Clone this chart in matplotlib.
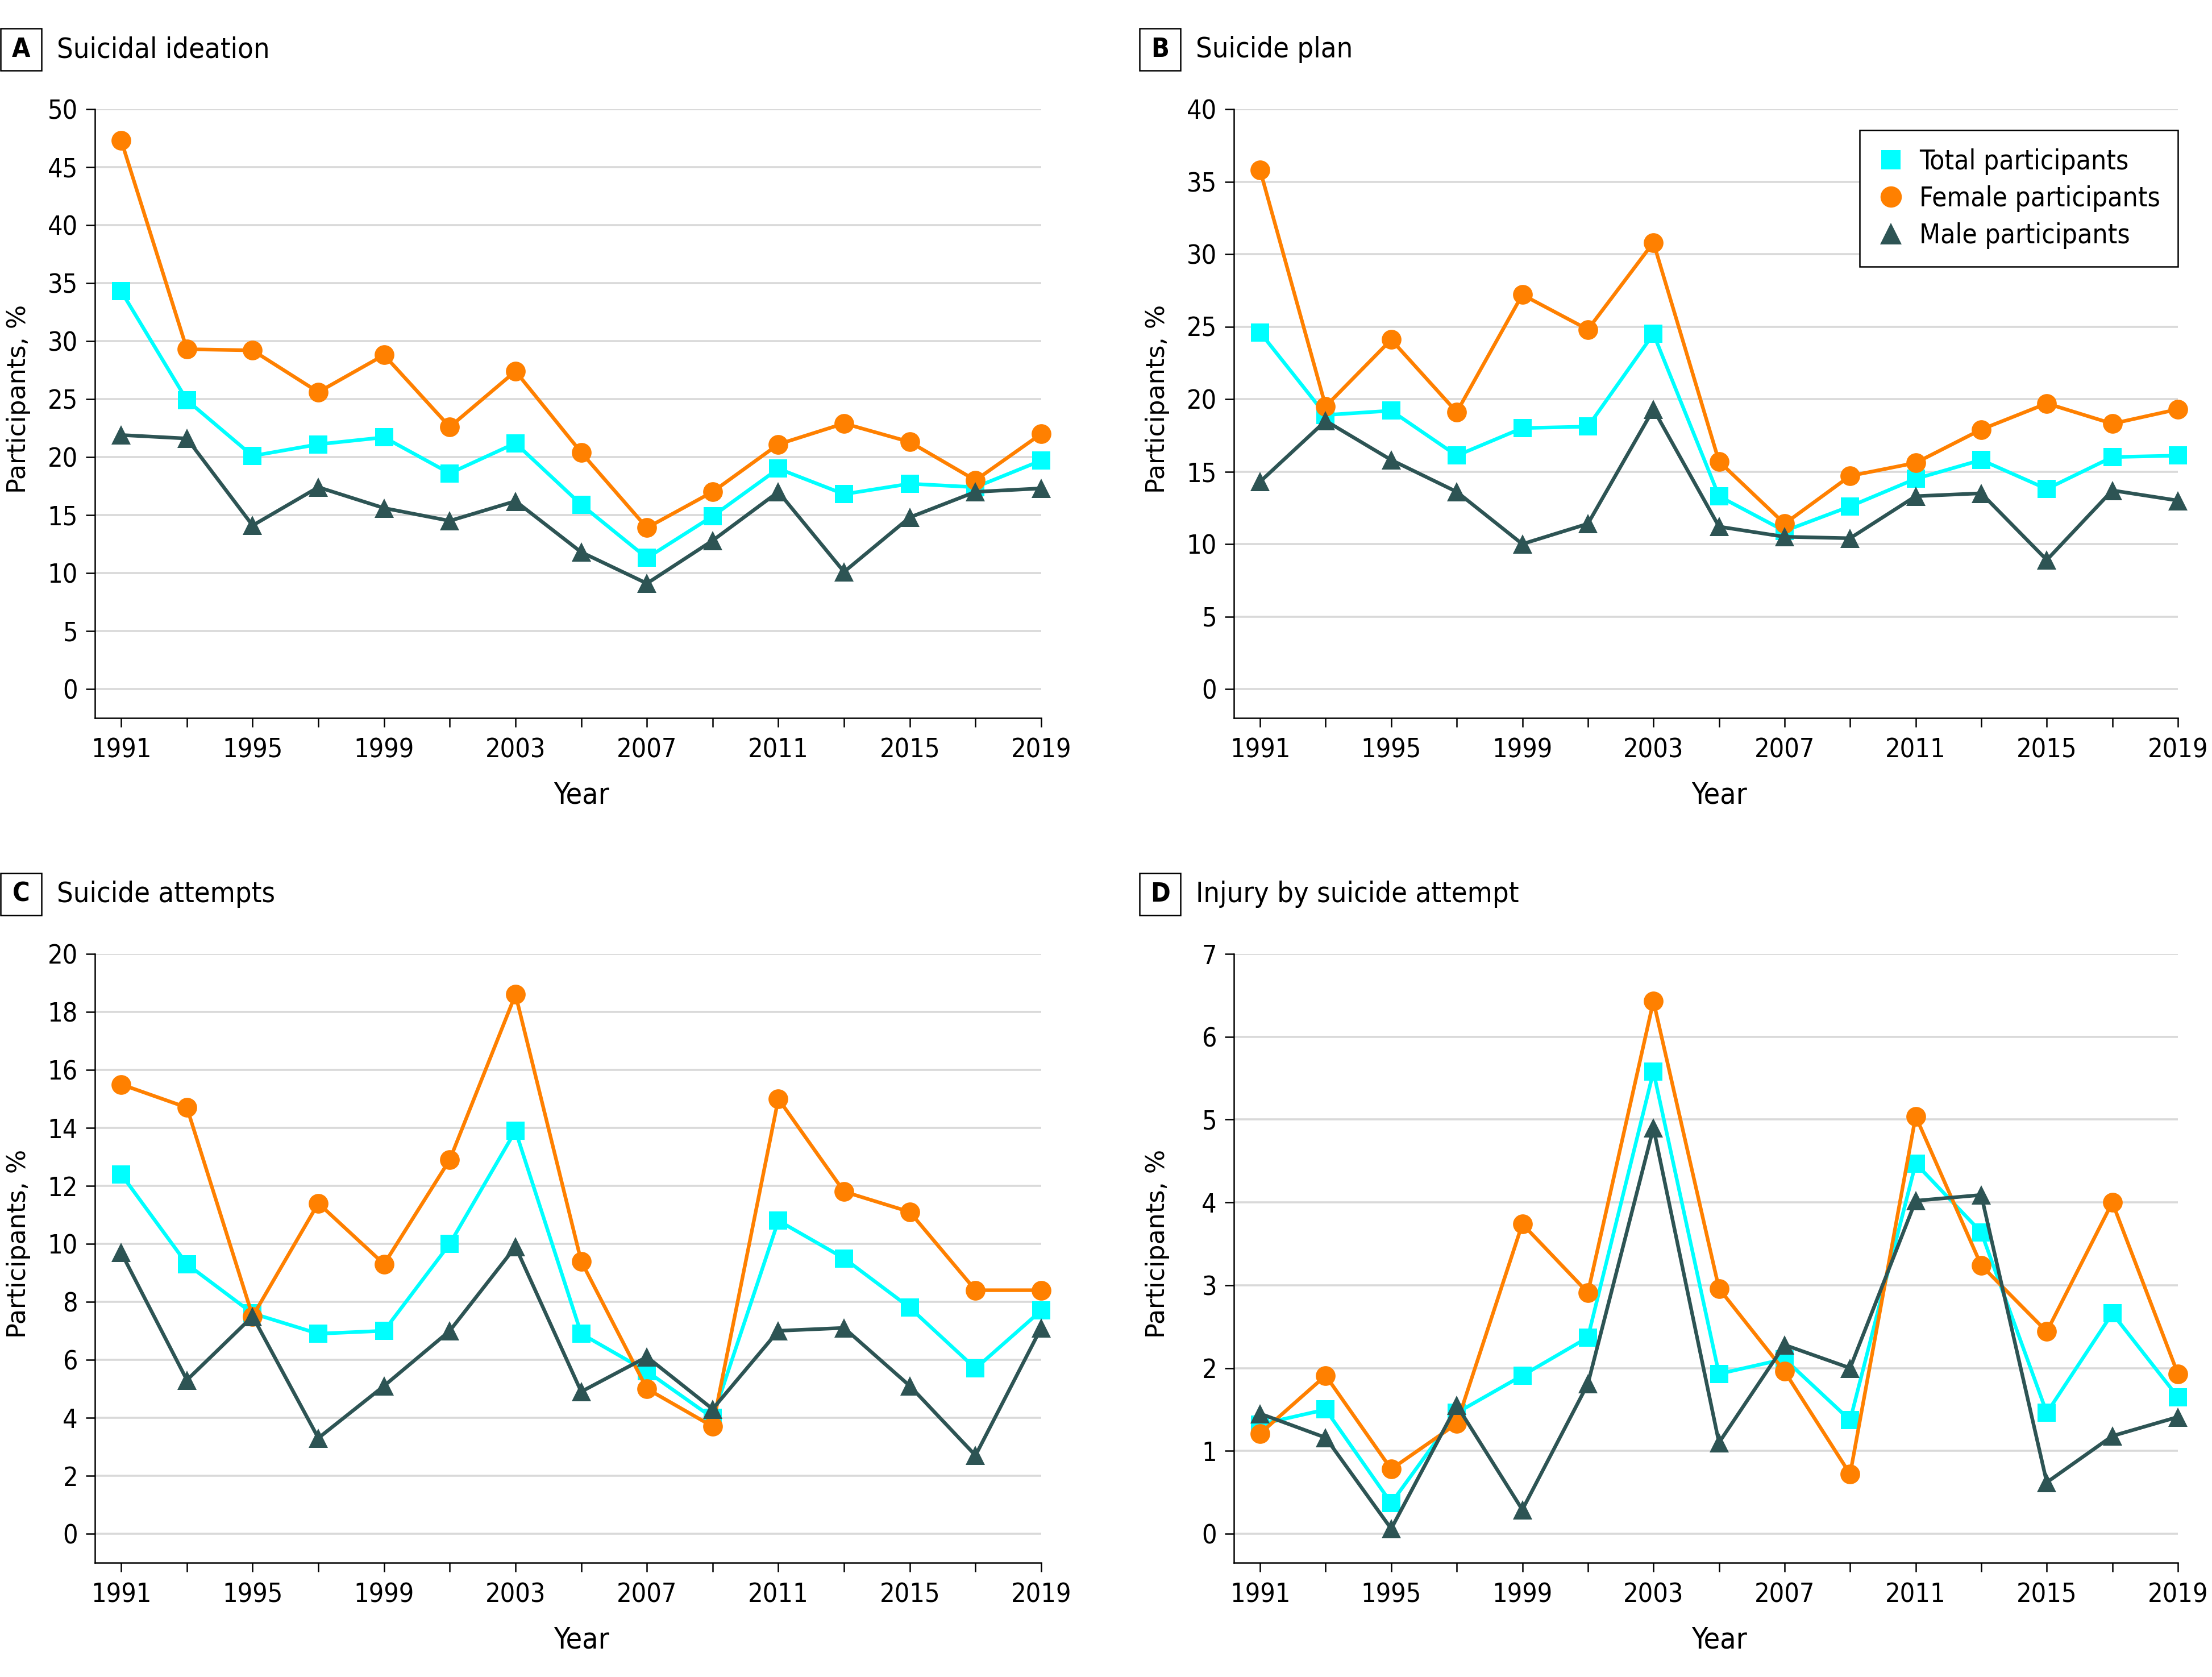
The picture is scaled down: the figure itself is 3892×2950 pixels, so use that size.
import matplotlib
matplotlib.use("Agg")
import matplotlib.pyplot as plt
from matplotlib import font_manager
from matplotlib.lines import Line2D
from matplotlib.patches import Rectangle

# ---------------- data ----------------
years = [1991, 1993, 1995, 1997, 1999, 2001, 2003, 2005, 2007, 2009, 2011, 2013, 2015, 2017, 2019]
year_labels = ["1991", "", "1995", "", "1999", "", "2003", "", "2007", "", "2011", "", "2015", "", "2019"]
series_names = ["Total participants", "Female participants", "Male participants"]

ideation_total = [34.3, 24.9, 20.1, 21.1, 21.7, 18.6, 21.2, 15.9, 11.3, 14.9, 19.0, 16.8, 17.7, 17.4, 19.7]
ideation_female = [47.3, 29.3, 29.2, 25.6, 28.8, 22.6, 27.4, 20.4, 13.9, 17.0, 21.1, 22.9, 21.3, 18.0, 22.0]
ideation_male = [21.9, 21.6, 14.1, 17.4, 15.6, 14.5, 16.2, 11.8, 9.1, 12.8, 17.0, 10.1, 14.8, 17.0, 17.3]

plan_total = [24.6, 18.9, 19.2, 16.1, 18.0, 18.1, 24.5, 13.3, 10.9, 12.6, 14.5, 15.8, 13.8, 16.0, 16.1]
plan_female = [35.8, 19.5, 24.1, 19.1, 27.2, 24.8, 30.8, 15.7, 11.4, 14.7, 15.6, 17.9, 19.7, 18.3, 19.3]
plan_male = [14.3, 18.5, 15.8, 13.6, 10.0, 11.4, 19.3, 11.2, 10.5, 10.4, 13.3, 13.5, 8.9, 13.7, 13.0]

attempt_total = [12.4, 9.3, 7.6, 6.9, 7.0, 10.0, 13.9, 6.9, 5.6, 4.0, 10.8, 9.5, 7.8, 5.7, 7.7]
attempt_female = [15.5, 14.7, 7.5, 11.4, 9.3, 12.9, 18.6, 9.4, 5.0, 3.7, 15.0, 11.8, 11.1, 8.4, 8.4]
attempt_male = [9.7, 5.3, 7.5, 3.3, 5.1, 7.0, 9.9, 4.9, 6.1, 4.3, 7.0, 7.1, 5.1, 2.7, 7.1]

injury_total = [1.32, 1.50, 0.37, 1.46, 1.91, 2.37, 5.58, 1.93, 2.11, 1.37, 4.47, 3.64, 1.46, 2.66, 1.65]
injury_female = [1.21, 1.91, 0.78, 1.33, 3.74, 2.91, 6.43, 2.96, 1.96, 0.72, 5.04, 3.24, 2.44, 4.00, 1.93]
injury_male = [1.45, 1.16, 0.06, 1.55, 0.29, 1.81, 4.90, 1.10, 2.28, 2.00, 4.02, 4.09, 0.62, 1.18, 1.41]

panel_letters = ["A", "B", "C", "D"]
panel_titles = ["Suicidal ideation", "Suicide plan", "Suicide attempts", "Injury by suicide attempt"]
panel_data = [
    (ideation_total, ideation_female, ideation_male),
    (plan_total, plan_female, plan_male),
    (attempt_total, attempt_female, attempt_male),
    (injury_total, injury_female, injury_male),
]
panel_ymax = [50, 40, 20, 7]
panel_ystep = [5, 5, 2, 1]

# ---------------- fonts ----------------
names = {f.name for f in font_manager.fontManager.ttflist}
condensed_dejavu = any(f.name == "DejaVu Sans" and "ondensed" in f.fname
                       for f in font_manager.fontManager.ttflist)
if "Liberation Sans Narrow" in names:
    NARROW = dict(family=["Liberation Sans Narrow", "DejaVu Sans"])
    SCALE = 1.0
elif condensed_dejavu:
    NARROW = dict(family=["DejaVu Sans"], stretch="condensed")
    SCALE = 0.93
elif "Liberation Sans" in names:
    NARROW = dict(family=["Liberation Sans", "DejaVu Sans"])
    SCALE = 0.92
else:
    NARROW = dict(family=["DejaVu Sans"])
    SCALE = 0.85


def nfont(size, weight="normal"):
    return font_manager.FontProperties(size=size * SCALE, weight=weight, **NARROW)


WIDE = font_manager.FontProperties(family=["DejaVu Sans"], size=16)

# ---------------- style ----------------
COL_TOTAL = "#00FFFF"
COL_FEMALE = "#FF8000"
COL_MALE = "#2D5454"
colors = [COL_TOTAL, COL_FEMALE, COL_MALE]
markers = ["s", "o", "^"]
msizes = [11.5, 12.5, 12.5]

W, H = 3892, 2950
DPI = 200
fig = plt.figure(figsize=(W / DPI, H / DPI), dpi=DPI)

# axes rectangles in pixels: left, top(y of max), right(2019), bottom(axis line)
rects_px = [
    (167, 192, 1832, 1263),
    (2171, 192, 3832, 1263),
    (167, 1678, 1832, 2749),
    (2171, 1678, 3832, 2749),
]


def fx(px):
    return px / W


def fy(py):
    return 1 - py / H


for i in range(4):
    l, t, r, b = rects_px[i]
    ax = fig.add_axes([fx(l), fy(b), fx(r - l), (b - t) / H])
    ymax = panel_ymax[i]
    ymin = -0.05 * ymax
    for s in range(3):
        ax.plot(years, panel_data[i][s], color=colors[s], linewidth=2.3,
                marker=markers[s], markersize=msizes[s], markeredgewidth=0,
                clip_on=False, zorder=3 + s)
    ax.set_xlim(1990.2, 2019)
    ax.set_ylim(ymin, ymax)
    ax.set_xticks(years)
    ax.set_xticklabels(year_labels, fontproperties=nfont(18))
    yt = list(range(0, ymax + 1, panel_ystep[i]))
    ax.set_yticks(yt)
    ax.set_yticklabels([str(v) for v in yt], fontproperties=nfont(18))
    ax.tick_params(axis="both", direction="out", length=5.8, width=0.9, color="black")
    ax.tick_params(axis="x", pad=6.5)
    ax.tick_params(axis="y", pad=5)
    for sp in ["top", "right"]:
        ax.spines[sp].set_visible(False)
    for sp in ["left", "bottom"]:
        ax.spines[sp].set_linewidth(0.9)
        ax.spines[sp].set_color("black")
    ax.yaxis.grid(True, color="#D9D9D9", linewidth=1.3)
    ax.xaxis.grid(False)
    ax.set_axisbelow(True)

    ax.set_ylabel("Participants, %", fontproperties=WIDE)
    ax.yaxis.set_label_coords(-0.068, (0.5 * ymax - ymin) / (ymax - ymin))
    ax.set_xlabel("Year", fontproperties=nfont(20))
    ax.xaxis.set_label_coords((2005 - 1990.2) / (2019 - 1990.2), -0.104)

    # panel letter box and title
    bx0 = l - 167
    by0 = t - 142
    bw, bh = 72, 74
    fig.add_artist(Rectangle((fx(bx0 + 1), fy(by0 + bh)), bw / W, bh / H,
                             transform=fig.transFigure, facecolor="white",
                             edgecolor="black", linewidth=0.9))
    fig.text(fx(bx0 + 1 + bw / 2), fy(by0 + bh / 2), panel_letters[i],
             ha="center", va="center", fontproperties=nfont(18, "bold"))
    fig.text(fx(bx0 + bw + 28), fy(by0 + bh / 2), panel_titles[i],
             ha="left", va="center", fontproperties=nfont(19.5))

    if i == 1:
        handles = [Line2D([], [], linestyle="none", marker=markers[s], color=colors[s],
                          markersize=msizes[s] + 1, markeredgewidth=0) for s in range(3)]
        leg = ax.legend(handles, series_names, loc="upper right",
                        bbox_to_anchor=(1.0, 0.965), frameon=True, fancybox=False,
                        edgecolor="black", framealpha=1, borderaxespad=0,
                        prop=nfont(18.5), handlelength=1.0,
                        handletextpad=0.55, labelspacing=0.38, borderpad=0.65)
        leg.get_frame().set_linewidth(0.9)

fig.savefig("out.png", dpi=DPI)
